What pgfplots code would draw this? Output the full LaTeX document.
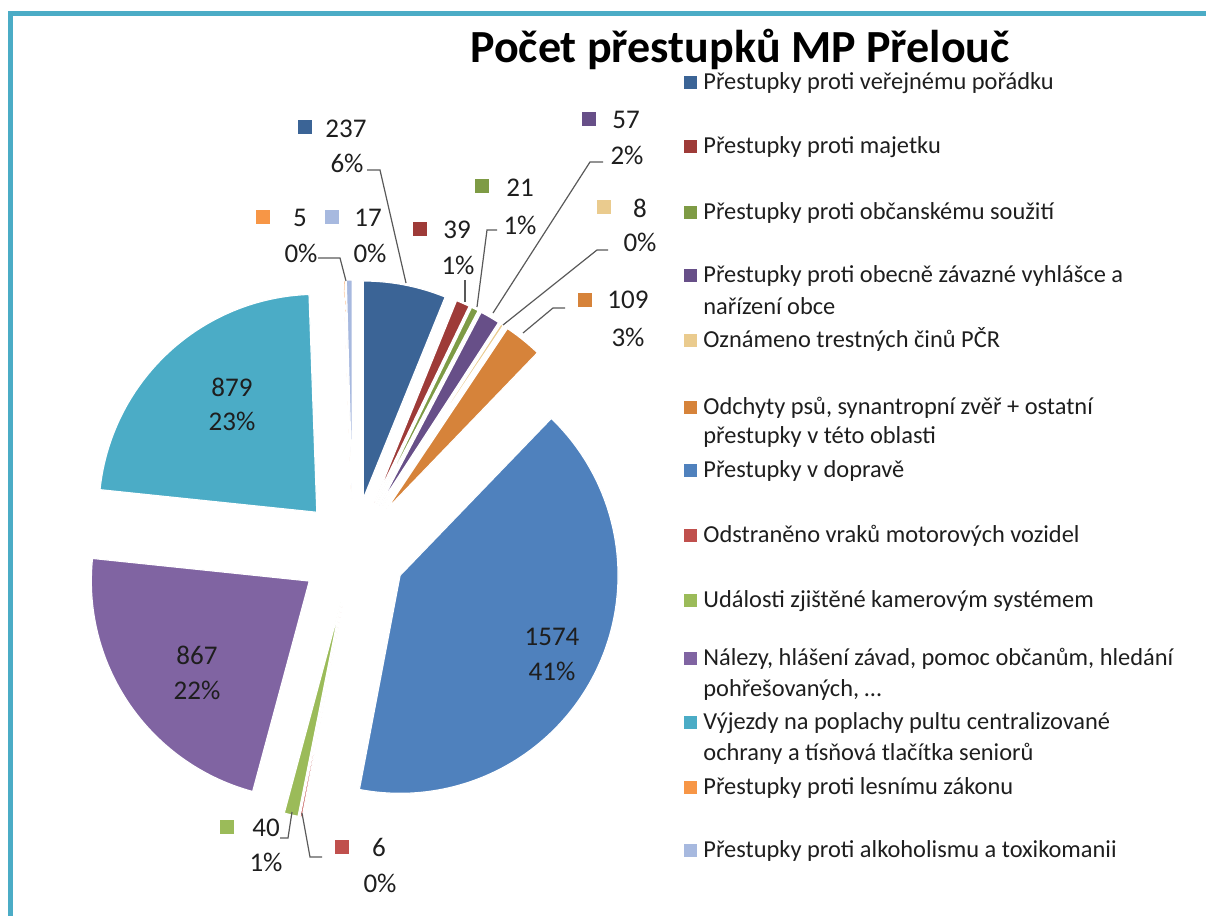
\documentclass[border=0pt]{standalone}
\usepackage{pgfplots}
\usepackage{pgfplotstable}
\pgfplotsset{compat=1.18}
\usepackage{fontspec}
\setmainfont{Carlito}

\definecolor{c0}{HTML}{3B6496}
\definecolor{c1}{HTML}{9E3B38}
\definecolor{c2}{HTML}{7E9B45}
\definecolor{c3}{HTML}{674F88}
\definecolor{c4}{HTML}{EACB8E}
\definecolor{c5}{HTML}{D6833A}
\definecolor{c6}{HTML}{4F81BD}
\definecolor{c7}{HTML}{C0504D}
\definecolor{c8}{HTML}{9BBB59}
\definecolor{c9}{HTML}{8064A2}
\definecolor{c10}{HTML}{4BACC6}
\definecolor{c11}{HTML}{F79646}
\definecolor{c12}{HTML}{A7B9DF}
\definecolor{frame}{HTML}{4BACC6}
\definecolor{lead}{HTML}{595959}
\definecolor{txt}{HTML}{1E1E1E}

% Counts per category (clockwise from 12 o'clock)
\pgfplotstableread{
v
237
39
21
57
8
109
1574
6
40
867
879
5
17
}\piedata

\newcommand{\lbl}{\fontsize{13.5}{16}\selectfont}
\newcommand{\lgd}{\fontsize{12.2}{15.5}\selectfont}

\begin{document}
\begin{tikzpicture}
\pgfplotstablegetrowsof{\piedata}
\pgfmathtruncatemacro\N{\pgfplotsretval-1}
\def\total{0}
\pgfplotsforeachungrouped \i in {0,...,\N}{%
  \pgfplotstablegetelem{\i}{v}\of\piedata
  \pgfmathsetmacro\total{\total+\pgfplotsretval}%
}
\begin{axis}[
  width=603pt, height=458pt, scale only axis,
  xmin=0, xmax=1206, ymin=0, ymax=916, y dir=reverse,
  hide axis, clip=false,
]
% ---- pie wedges (exploded) ----
\def\cum{0}
\pgfplotsforeachungrouped \i in {0,...,\N}{%
  \pgfplotstablegetelem{\i}{v}\of\piedata
  \pgfmathsetmacro\sA{\cum}%
  \pgfmathsetmacro\sB{\cum+\pgfplotsretval}%
  \pgfmathsetmacro\sM{(\sA/\total+\sB/\total)*180}%
  \pgfmathsetmacro\vx{353+53*sin(\sM)}%
  \pgfmathsetmacro\vy{551-53*cos(\sM)}%
  \edef\temp{\noexpand\addplot[no marks, fill=c\i, draw=white, line width=0.6pt,
     domain=\sA:\sB, samples=100, variable=\noexpand\t]
     ({\vx+218*sin(\noexpand\t/\total*360)},{\vy-218*cos(\noexpand\t/\total*360)})
     -- (axis cs:\vx,\vy) -- cycle;}%
  \temp
  \let\cum\sB
}
% ---- leader lines ----
\addplot[no marks, lead, line width=0.6pt] coordinates {(367,170) (380,170) (406,283)};
\addplot[no marks, lead, line width=0.6pt] coordinates {(318,258) (340,258) (346,281)};
\addplot[no marks, lead, line width=0.6pt] coordinates {(465,280) (465,302)};
\addplot[no marks, lead, line width=0.6pt] coordinates {(497,230) (487,230) (477,307)};
\addplot[no marks, lead, line width=0.6pt] coordinates {(603,162) (590,162) (493,313)};
\addplot[no marks, lead, line width=0.6pt] coordinates {(608,250) (597,250) (503,325)};
\addplot[no marks, lead, line width=0.6pt] coordinates {(565,308) (553,308) (523,333)};
\addplot[no marks, lead, line width=0.6pt] coordinates {(280,838) (288,838) (292,812)};
\addplot[no marks, lead, line width=0.6pt] coordinates {(322,857) (310,857) (302,813)};

% ---- frame ----
\fill[frame] (axis cs:8,11) rectangle (axis cs:1206,16);
\fill[frame] (axis cs:8,11) rectangle (axis cs:13,916);

% ---- title ----
\node[anchor=base, font=\fontsize{23}{27}\selectfont\bfseries, text=black]
  at (axis cs:740,62) {Počet přestupků MP Přelouč};

% ---- data labels ----
\begin{scope}[every node/.style={text=txt, font=\lbl, inner sep=0pt}]
\fill[c0] (axis cs:298,120) rectangle (axis cs:312,134);
\node at (axis cs:346,129) {237}; \node at (axis cs:347,163) {6\%};
\fill[c11] (axis cs:256,210) rectangle (axis cs:270,224);
\node at (axis cs:300,218) {5}; \node at (axis cs:301,253) {0\%};
\fill[c12] (axis cs:325,210) rectangle (axis cs:339,224);
\node at (axis cs:368,218) {17}; \node at (axis cs:370,253) {0\%};
\fill[c1] (axis cs:413,222) rectangle (axis cs:427,236);
\node at (axis cs:457,230) {39}; \node at (axis cs:458,265) {1\%};
\fill[c2] (axis cs:475,179) rectangle (axis cs:489,193);
\node at (axis cs:520,188) {21}; \node at (axis cs:520,225) {1\%};
\fill[c3] (axis cs:582,112) rectangle (axis cs:596,126);
\node at (axis cs:626,120) {57}; \node at (axis cs:627,155) {2\%};
\fill[c4] (axis cs:597,200) rectangle (axis cs:611,214);
\node at (axis cs:640,208) {8}; \node at (axis cs:640,242) {0\%};
\fill[c5] (axis cs:578,293) rectangle (axis cs:592,307);
\node at (axis cs:628,300) {109}; \node at (axis cs:628,337) {3\%};
\fill[c8] (axis cs:220,820) rectangle (axis cs:234,834);
\node at (axis cs:266,828) {40}; \node at (axis cs:266,862) {1\%};
\fill[c7] (axis cs:335,840) rectangle (axis cs:349,854);
\node at (axis cs:379,847) {6}; \node at (axis cs:380,883) {0\%};
\node at (axis cs:232,387) {879}; \node at (axis cs:232,421) {23\%};
\node at (axis cs:197,655) {867}; \node at (axis cs:197,690) {22\%};
\node at (axis cs:552,637) {1574}; \node at (axis cs:552,671) {41\%};
\end{scope}

% ---- legend ----
\begin{scope}[every node/.style={text=txt, font=\lgd, inner sep=0pt, anchor=base west}]
\fill[c0] (axis cs:684,76) rectangle (axis cs:697,89);
\node at (axis cs:703,89) {Přestupky proti veřejnému pořádku};
\fill[c1] (axis cs:684,140) rectangle (axis cs:697,153);
\node at (axis cs:703,153) {Přestupky proti majetku};
\fill[c2] (axis cs:684,206) rectangle (axis cs:697,219);
\node at (axis cs:703,219) {Přestupky proti občanskému soužití};
\fill[c3] (axis cs:684,269) rectangle (axis cs:697,282);
\node at (axis cs:703,282) {Přestupky proti obecně závazné vyhlášce a};
\node at (axis cs:703,314) {nařízení obce};
\fill[c4] (axis cs:684,334) rectangle (axis cs:697,347);
\node at (axis cs:703,347) {Oznámeno trestných činů PČR};
\fill[c5] (axis cs:684,401) rectangle (axis cs:697,414);
\node at (axis cs:703,414) {Odchyty psů, synantropní zvěř + ostatní};
\node at (axis cs:703,443) {přestupky v této oblasti};
\fill[c6] (axis cs:684,464) rectangle (axis cs:697,477);
\node at (axis cs:703,477) {Přestupky v dopravě};
\fill[c7] (axis cs:684,529) rectangle (axis cs:697,542);
\node at (axis cs:703,542) {Odstraněno vraků motorových vozidel};
\fill[c8] (axis cs:684,594) rectangle (axis cs:697,607);
\node at (axis cs:703,607) {Události zjištěné kamerovým systémem};
\fill[c9] (axis cs:684,652) rectangle (axis cs:697,665);
\node at (axis cs:703,665) {Nálezy, hlášení závad, pomoc občanům, hledání};
\node at (axis cs:703,696) {pohřešovaných, …};
\fill[c10] (axis cs:684,716) rectangle (axis cs:697,729);
\node at (axis cs:703,729) {Výjezdy na poplachy pultu centralizované};
\node at (axis cs:703,760) {ochrany a tísňová tlačítka seniorů};
\fill[c11] (axis cs:684,781) rectangle (axis cs:697,794);
\node at (axis cs:703,794) {Přestupky proti lesnímu zákonu};
\fill[c12] (axis cs:684,844) rectangle (axis cs:697,857);
\node at (axis cs:703,857) {Přestupky proti alkoholismu a toxikomanii};
\end{scope}
\end{axis}
\pgfresetboundingbox
\path (current axis.south west) rectangle (current axis.north east);
\end{tikzpicture}
\end{document}
